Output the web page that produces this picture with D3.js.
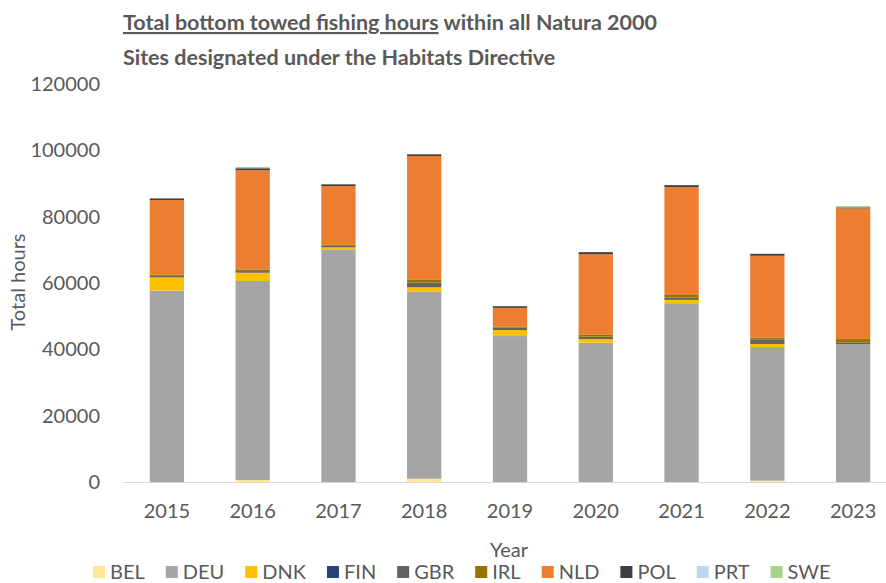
<!DOCTYPE html>
<html>
<head>
<meta charset="utf-8">
<script src="https://cdn.jsdelivr.net/npm/d3@7/dist/d3.min.js"></script>
<style>
  body { margin: 0; background: #fff; }
  text { font-family: Lato, "Open Sans", sans-serif; fill: #595959; }
</style>
</head>
<body>
<div id="chart"></div>
<script>
var years = ["2015", "2016", "2017", "2018", "2019", "2020", "2021", "2022", "2023"];
var countries = ["BEL", "DEU", "DNK", "FIN", "GBR", "IRL", "NLD", "POL", "PRT", "SWE"];

// hours per country, one value per year
var BEL = [0, 600, 0, 1000, 0, 0, 0, 400, 0];
var DEU = [57700, 60000, 70150, 56400, 44000, 42000, 53900, 40300, 41500];
var DNK = [4000, 2500, 600, 1300, 1800, 1100, 1000, 900, 0];
var FIN = [0, 0, 0, 0, 0, 0, 0, 0, 0];
var GBR = [450, 500, 450, 1400, 700, 700, 700, 1400, 500];
var IRL = [450, 500, 450, 1000, 300, 700, 800, 500, 1100];
var NLD = [22400, 29900, 17600, 37200, 5700, 24200, 32500, 24700, 39400];
var POL = [500, 600, 500, 500, 500, 600, 600, 600, 300];
var PRT = [0, 0, 0, 0, 0, 0, 0, 0, 0];
var SWE = [0, 400, 0, 0, 0, 0, 0, 0, 400];

var yTicks = [0, 20000, 40000, 60000, 80000, 100000, 120000];

var series = { BEL: BEL, DEU: DEU, DNK: DNK, FIN: FIN, GBR: GBR, IRL: IRL, NLD: NLD, POL: POL, PRT: PRT, SWE: SWE };

var colors = d3
  .scaleOrdinal()
  .domain(countries)
  .range(["#ffe699", "#a5a5a5", "#ffc000", "#264478", "#636363", "#997300", "#ed7d31", "#404040", "#bdd7ee", "#a9d18e"]);

var W = 886, H = 583;

var svg = d3
  .select("#chart")
  .append("svg")
  .attr("width", W)
  .attr("height", H);

// build rows for the stack
var rows = years.map(function (y, i) {
  var r = { year: y };
  countries.forEach(function (c) { r[c] = series[c][i]; });
  return r;
});

var stacked = d3.stack().keys(countries)(rows);

var x = d3
  .scaleBand()
  .domain(years)
  .range([124, 896])
  .paddingInner(0.6)
  .paddingOuter(0.3);

var y = d3
  .scaleLinear()
  .domain([0, 120000])
  .range([482, 84]);

// Y axis (labels only)
var yAxis = svg
  .append("g")
  .attr("transform", "translate(123,0)")
  .call(d3.axisLeft(y).tickValues(yTicks).tickSize(0).tickPadding(23).tickFormat(d3.format("d")));
yAxis.select(".domain").remove();
yAxis.selectAll("text").style("font-size", "20px").style("fill", "#595959");

// bars
svg
  .append("g")
  .selectAll("g")
  .data(stacked)
  .enter()
  .append("g")
  .attr("fill", function (d) { return colors(d.key); })
  .selectAll("rect")
  .data(function (d) { return d; })
  .enter()
  .append("rect")
  .attr("x", function (d) { return x(d.data.year); })
  .attr("width", x.bandwidth())
  .attr("y", function (d) { return y(d[1]); })
  .attr("height", function (d) { return y(d[0]) - y(d[1]); });

// X axis
var xAxis = svg
  .append("g")
  .attr("transform", "translate(0,482)")
  .call(d3.axisBottom(x).tickSize(0).tickPadding(22));
xAxis.select(".domain").remove();
xAxis.selectAll("text").style("font-size", "20px").style("fill", "#595959");

svg
  .append("line")
  .attr("x1", 123)
  .attr("x2", W)
  .attr("y1", y(0) + 0.5)
  .attr("y2", y(0) + 0.5)
  .attr("stroke", "#d9d9d9")
  .attr("stroke-width", 1);

// title
var title = svg.append("text").attr("x", 123).attr("y", 30)
  .style("font-size", "21.5px").style("font-weight", "bold");
title.append("tspan").style("text-decoration", "underline")
  .text("Total bottom towed fishing hours");
title.append("tspan").text(" within all Natura 2000");
svg.append("text").attr("x", 123).attr("y", 65)
  .style("font-size", "21.5px").style("font-weight", "bold")
  .text("Sites designated under the Habitats Directive");

// axis titles
svg.append("text")
  .attr("x", 509).attr("y", 557)
  .attr("text-anchor", "middle")
  .style("font-size", "20px")
  .text("Year");

svg.append("text")
  .attr("transform", "translate(25,282) rotate(-90)")
  .attr("text-anchor", "middle")
  .style("font-size", "20px")
  .text("Total hours");

// legend
var legend = svg.append("g").attr("transform", "translate(93,572)");
var lx = 0;
countries.forEach(function (c) {
  var item = legend.append("g").attr("transform", "translate(" + lx + ",0)");
  item.append("rect")
    .attr("x", 0).attr("y", -6)
    .attr("width", 12).attr("height", 12)
    .attr("fill", colors(c));
  var t = item.append("text")
    .attr("x", 17).attr("y", 7)
    .style("font-size", "20px")
    .text(c);
  lx += 17 + t.node().getComputedTextLength() + 21;
});
</script>
</body>
</html>
